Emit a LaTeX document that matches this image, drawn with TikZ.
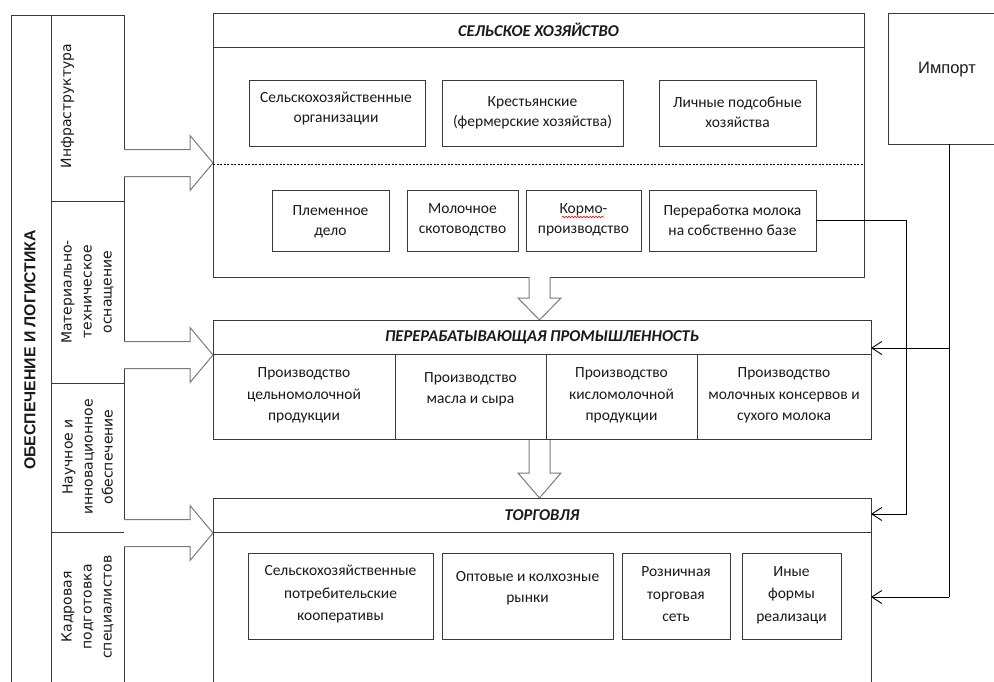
\documentclass[tikz,border=0pt]{standalone}
\usepackage{fontspec}
\setmainfont{Carlito}
\newfontfamily\arialf{Liberation Sans}
\newfontfamily\dvs{DejaVu Sans}
\usetikzlibrary{arrows.meta,decorations.pathmorphing}
\definecolor{ln}{HTML}{3A3A3A}
\definecolor{tx}{HTML}{1A1A1A}
\definecolor{ar}{HTML}{7A7A7A}
\begin{document}
\begin{tikzpicture}[x=1pt,y=-1pt,
  frame/.style={draw=ln, line width=1pt, inner sep=0pt, outer sep=0pt, anchor=north west},
  sepline/.style={draw=ln, line width=1pt},
  txt/.style={font=\fontsize{15.5}{20}\selectfont, align=center, text=tx, inner sep=0pt},
  txtb/.style={font=\fontsize{15.5}{21.5}\selectfont, align=center, text=tx, inner sep=0pt},
  txtc/.style={font=\fontsize{15.5}{22.5}\selectfont, align=center, text=tx, inner sep=0pt},
  ttl/.style={font=\fontsize{16.5}{20}\selectfont\bfseries\itshape, text=tx, inner sep=0pt},
  side/.style={font=\dvs\fontsize{14}{20}\selectfont, rotate=90, align=center, text=tx, inner sep=0pt},
  barrow/.style={draw=ar, line width=1pt, fill=white, line join=miter},
  conn/.style={draw=black, line width=0.9pt},
  tip/.style={-{Straight Barb[length=10pt,width=13pt,line width=0.9pt]}}
]
\useasboundingbox (0,0) rectangle (994,681);
\fill[white] (0,0) rectangle (994,681);

% left column
\node[frame, minimum width=113, minimum height=700] (lc) at (11,15) {};
\node[frame, minimum width=73, minimum height=186] (infra) at (51,15) {};
\node[frame, minimum width=73, minimum height=182] (mto) at (51,201) {};
\node[frame, minimum width=73, minimum height=149] (nio) at (51,383) {};
\node[frame, minimum width=73, minimum height=170] (kps) at (51,532) {};
\node[font=\arialf\bfseries\fontsize{15.8}{18}\selectfont, rotate=90, text=tx, inner sep=0pt] (lt) at (30,350) {ОБЕСПЕЧЕНИЕ И ЛОГИСТИКА};
\node[side] (t-infra) at (67.5,106) {Инфраструктура};
\node[side] (t-mto) at (87.5,292) {Материально-\\техническое\\оснащение};
\node[side] (t-nio) at (87.5,457) {Научное и\\инновационное\\обеспечение};
\node[side] (t-kps) at (87.5,607) {Кадровая\\подготовка\\специалистов};

% block arrows to the right
\draw[barrow] (124,149.5) -- (190,149.5) -- (190,135.5) -- (213,163) -- (190,190.5) -- (190,176.5) -- (124,176.5);
\draw[barrow] (124,341.5) -- (190,341.5) -- (190,327.5) -- (213,355) -- (190,382.5) -- (190,368.5) -- (124,368.5);
\draw[barrow] (124,519.5) -- (190,519.5) -- (190,505.5) -- (213,533) -- (190,560.5) -- (190,546.5) -- (124,546.5);

% Сельское хозяйство
\node[frame, minimum width=651, minimum height=264] (sh) at (213,13) {};
\draw[sepline] (213,47) -- (864,47);
\node[ttl] (t-sh) at (538.5,30) {СЕЛЬСКОЕ ХОЗЯЙСТВО};
\draw[draw=black, line width=0.7pt, dash pattern=on 2pt off 1.5pt] (213,164) -- (864,164);

\node[frame, minimum width=176, minimum height=66] (so) at (249,80) {};
\node[txt] (t-so) at (336,108.5) {Сельскохозяйственные\\организации};
\node[frame, minimum width=181, minimum height=66] (kf) at (442,80) {};
\node[txt] (t-kf) at (532.5,113) {Крестьянские\\(фермерские хозяйства)};
\node[frame, minimum width=157, minimum height=66] (lp) at (659,80) {};
\node[txt] (t-lp) at (737.5,112.5) {Личные подсобные\\хозяйства};

\node[frame, minimum width=117, minimum height=61] (pd) at (272,190) {};
\node[txt] (t-pd) at (330.5,222) {Племенное\\дело};
\node[frame, minimum width=111, minimum height=61] (ms) at (407,190) {};
\node[txt] (t-ms) at (462.5,220) {Молочное\\скотоводство};
\node[frame, minimum width=115, minimum height=61] (kp) at (526,190) {};
\node[txt] (t-kp) at (583.5,220) {Кормо-\\производство};
\draw[red, line width=0.6pt, decorate, decoration={snake, amplitude=0.8pt, segment length=3pt}] (562,217) -- (604,217);
\node[frame, minimum width=167, minimum height=61] (per) at (649,190) {};
\node[txt] (t-per) at (732.5,220.5) {Переработка молока\\на собственно базе};

% down arrows
\draw[barrow] (529,277) -- (529,298) -- (518,298) -- (539.5,320) -- (561,298) -- (550,298) -- (550,277);
\draw[barrow] (529,439) -- (529,473) -- (518,473) -- (539.5,498) -- (561,473) -- (550,473) -- (550,439);

% Перерабатывающая промышленность
\node[frame, minimum width=658, minimum height=119] (pp) at (213,320) {};
\draw[sepline] (213,354) -- (871,354);
\node[ttl] (t-pp) at (542,337) {ПЕРЕРАБАТЫВАЮЩАЯ ПРОМЫШЛЕННОСТЬ};
\draw[sepline] (395,354) -- (395,439);
\draw[sepline] (546,354) -- (546,439);
\draw[sepline] (697,354) -- (697,439);
\node[txtb] (t-p1) at (304,395.5) {Производство\\цельномолочной\\продукции};
\node[txtb] (t-p2) at (470.5,389.5) {Производство\\масла и сыра};
\node[txtb] (t-p3) at (621.5,395.5) {Производство\\кисломолочной\\продукции};
\node[txtb] (t-p4) at (784,395.5) {Производство\\молочных консервов и\\сухого молока};

% Торговля
\node[frame, minimum width=658, minimum height=210] (tg) at (213,498) {};
\draw[sepline] (213,532) -- (871,532);
\node[ttl] (t-tg) at (542,515) {ТОРГОВЛЯ};
\node[frame, minimum width=185, minimum height=86] (b1) at (248,553) {};
\node[txtc] (t-b1) at (340.5,594.5) {Сельскохозяйственные\\потребительские\\кооперативы};
\node[frame, minimum width=171, minimum height=86] (b2) at (442,553) {};
\node[txtb] (t-b2) at (527.5,588) {Оптовые и колхозные\\рынки};
\node[frame, minimum width=108, minimum height=86] (b3) at (622,553) {};
\node[txtc] (t-b3) at (676,594.5) {Розничная\\торговая\\сеть};
\node[frame, minimum width=99, minimum height=86] (b4) at (742,553) {};
\node[txtc] (t-b4) at (791.5,595) {Иные\\формы\\реализаци};

% Импорт
\node[frame, minimum width=122, minimum height=131] (imp) at (888,13) {};
\node[font=\arialf\fontsize{16.5}{20}\selectfont, text=tx, inner sep=0pt] (t-imp) at (947,70) {Импорт};

% connectors
\coordinate (j1) at (906,514);
\coordinate (j2) at (949,348);
\coordinate (j3) at (949,597);
\draw[conn, tip] (per.east) -| (j1) -- (j1 -| tg.east);
\draw[conn] (imp.south) -- (j3);
\draw[conn, tip] (j3) -- (j3 -| tg.east);
\draw[conn, tip] (j2) -- (j2 -| pp.east);
\end{tikzpicture}
\end{document}
